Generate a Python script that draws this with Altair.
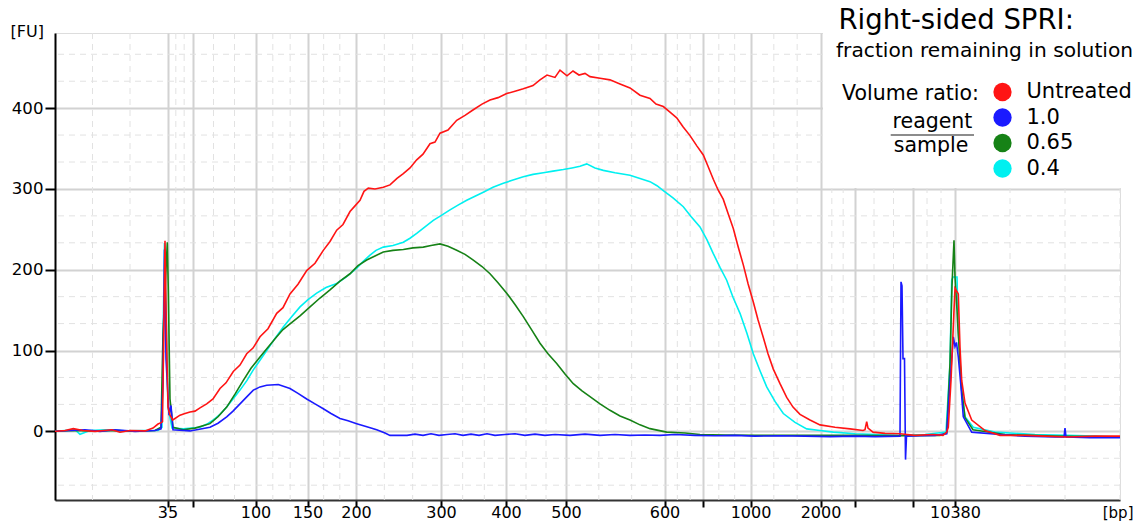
import altair as alt
import pandas as pd

# ---- x: migration position along the run (ladder peaks mark the bp sizes) ----
tick_pos = [112.5, 137.5, 200.5, 252.5, 301, 386, 451, 511, 609.5, 648, 695.5, 765.5, 799.5, 858, 900]
tick_lbl = ["35", "", "100", "150", "200", "300", "400", "500", "600", "", "1000", "2000", "", "", "10380"]
X_END = 1065
y_major = [0, 100, 200, 300, 400]

series_names = ["Untreated", "1.0", "0.65", "0.4"]
series_colors = ["#ff1414", "#1a1aff", "#168216", "#00f0f0"]

untreated_x = [0, 1.7, 10, 18.3, 28, 40, 56.7, 65, 75, 90, 98, 103, 106.7, 107.5, 108.5, 110, 111.5, 113, 115,
               117.7, 125, 130, 135, 140, 145, 151.7, 158, 165, 171, 178.3, 185, 191.7, 198, 205, 213, 221.7,
               228, 235, 243, 251.7, 260, 268.3, 275, 281.7, 288, 295, 300, 305, 309, 313.3, 320, 328.3, 335,
               342, 348.3, 355, 361.7, 368, 375, 380, 385, 393, 401.7, 410, 418.3, 427, 435, 443, 451.7, 460,
               468.3, 478, 485, 492, 500, 505, 512, 518, 524, 530, 535, 545, 555, 565, 575, 585, 595, 601,
               608.3, 615, 621.7, 628, 635, 642, 648.3, 653, 658.3, 663, 668.3, 673, 678.3, 683, 688.3, 693,
               698.3, 703, 708.3, 713, 718.3, 725, 731.7, 738, 745, 755, 765, 780, 795, 808, 810, 811.7, 813,
               818, 830, 845, 860, 878, 888, 891.7, 893.3, 896, 899, 900, 903.3, 905, 906.7, 910, 916.7, 930,
               945, 970, 990, 1011.7, 1040, 1065]
untreated_y = [0, 0, 1, 3.3, 1, 0, 2, -1.2, 1, 0.5, 4, 9, 11, 12, 100, 236, 120, 30, 20,
               14, 20, 22, 24, 25, 29, 34, 40, 53, 60, 74, 82, 96, 103, 117, 127, 146,
               153, 170, 182, 199, 208, 224, 235, 249, 256, 272, 279, 286, 297, 301, 300, 302, 305,
               313, 319, 326, 336, 343, 356, 358, 369, 373, 385, 391, 398, 405, 410, 413, 418, 421,
               424, 428, 435, 441, 438, 447, 440, 446, 441, 443, 439, 437, 435, 430, 425, 416, 412, 405,
               402, 395, 388, 377, 366, 353, 342, 328, 312, 299, 287, 270, 251, 229, 206, 183, 160,
               138, 116, 96, 77, 59, 42, 30, 21, 14, 8, 5, 3, 1, 2, 12, 4,
               -1, -2.5, -3, -5, -4, -5, -1, 5, 63, 150, 177, 170, 104, 63, 35, 14, 1, -5,
               -5, -6, -7, -6, -6, -6]

ratio10_x = [0, 15, 30, 45, 60, 80, 100, 106, 108, 109.5, 111, 114, 116, 118, 135, 155, 163, 171.7, 178, 185,
             192, 198.3, 205, 211.7, 223.3, 235, 243, 251.7, 260, 268.3, 276, 285, 293, 301.7, 311, 321.7, 330,
             335, 352, 360, 368, 376, 384, 392, 400, 408, 416, 424, 432, 440, 450, 460, 470, 480, 490, 500,
             515, 530, 545, 560, 575, 590, 605, 620, 640, 660, 680, 700, 725, 750, 775, 800, 820, 845, 846,
             847, 848, 849.5, 850.5, 851.5, 865, 880, 891.7, 895, 898.3, 900, 901.5, 903.3, 906, 908.3, 916.7,
             945, 970, 1000, 1009, 1010, 1011, 1035, 1065]
ratio10_y = [0, 1, 2, 0, 2, 0, 1, 3, 60, 225, 90, 20, 32, 2, 0.5, 5, 10, 18, 25, 34,
             43, 51, 55, 57, 58, 53, 47, 40, 34, 28, 22, 16, 13, 9.5, 6, 2, -2,
             -5, -5, -3.5, -5, -3, -5, -4, -3, -5, -3.5, -5, -3, -5, -4, -3, -5, -3.5, -5, -4,
             -5, -3.5, -5, -4, -5, -4.5, -5, -4, -5, -5.5, -5, -6, -5.5, -6, -6.5, -6, -6.5, -6, 185,
             180, 90, 90, -35, -6, -5.5, -5, -3, 60, 117, 105, 110, 92, 55, 18, -1,
             -4, -6, -7, -7, 4, -7, -8, -8]

ratio065_x = [0, 20, 40, 60, 80, 100, 106, 108, 112.3, 113.3, 115, 118, 128.3, 140, 155, 163, 171.7, 180,
              188.3, 196, 205, 213, 221.7, 228, 235, 245, 255, 265, 275, 285, 295, 303, 311.7, 320, 328.3,
              338, 348.3, 358, 368.3, 376, 385, 393, 401.7, 410, 418.3, 427, 435, 443, 451.7, 460, 468.3,
              477, 485, 493, 501.7, 510, 518.3, 527, 535, 545, 555, 565, 575, 585, 595, 611.7, 630, 645, 670,
              700, 750, 800, 850, 885, 891.7, 895, 897, 899, 900, 902, 903.3, 906.7, 910, 918, 950, 1000, 1065]
ratio065_y = [0, 1, 0, 1, 0, 1, 5, 120, 234, 175, 40, 5, 2, 4, 9.5, 18, 30, 46,
              63, 78, 92, 104, 117, 126, 133, 143, 154, 165, 175, 186, 195, 205, 212, 217, 222,
              224, 225, 227, 228, 230, 232, 229, 224, 219, 212, 204, 195, 184, 171, 157, 142,
              125, 109, 96, 84, 71, 59, 50, 43, 34, 26, 19, 14, 8, 3.3, -1, -2, -4, -4.5,
              -5, -5, -5, -5.5, -5, -2, 84, 180, 236.5, 191, 150, 120, 51, 17, 2, -4, -6, -7]

ratio04_x = [0, 10, 20, 25, 35, 50, 70, 90, 103, 107, 108.5, 109.5, 111, 113, 117, 128.3, 145, 152, 158.3,
             165, 171.7, 178, 185, 192, 198.3, 205, 211.7, 220, 228.3, 236, 245, 253, 261.7, 271, 281.7, 291,
             301.7, 308, 315, 321, 328.3, 338, 348.3, 355, 361.7, 370, 378.3, 386, 395, 403, 411.7, 420,
             428.3, 438, 448.3, 458, 468.3, 478, 488.3, 498, 508.3, 517, 525, 531.7, 540, 548.3, 560, 575,
             585, 595, 602, 608.3, 618, 628.3, 636, 645, 652, 658.3, 665, 671.7, 678, 685, 692, 698.3, 705,
             711.7, 720, 728.3, 740, 751.7, 765, 778.3, 800, 845, 870, 891, 895, 896.7, 898, 902, 903.3,
             906.7, 910, 918.3, 940, 980, 1011.7, 1040, 1065]
ratio04_y = [0, 1, 2, -3.7, 1, 2, 0.5, 1, 1, 5, 150, 233, 150, 30, 4, 3, 5, 9, 14,
             21, 30, 40, 51, 63, 76, 88, 100, 115, 129, 141, 154, 163, 171, 178, 183, 191,
             202, 210, 218, 224, 228, 230, 234, 239, 245, 253, 261, 267, 274, 280, 286, 291,
             296, 302, 307, 311, 315, 318, 320, 322, 324, 326, 328, 331, 326, 323, 320, 317,
             313, 309, 304, 298, 289, 278, 266, 253, 237, 220, 203, 187, 166, 146, 121, 96, 75,
             55, 37, 22, 11, 3, 1, -1, -3, -5, -4, -1, 84, 187, 191, 191, 125,
             51, 18, 5, -1, -4, -5, -6, -7]

rows = []
for name, xs, ys in [("0.4", ratio04_x, ratio04_y), ("0.65", ratio065_x, ratio065_y),
                     ("1.0", ratio10_x, ratio10_y), ("Untreated", untreated_x, untreated_y)]:
    for i, (a, b) in enumerate(zip(xs, ys)):
        rows.append({"series": name, "pos": a, "fu": b, "i": i})
df = pd.DataFrame(rows)

# minor (dashed) grid positions: thirds between consecutive ticks
bounds = [0] + tick_pos + [X_END]
minor_x = []
for a, b in zip(bounds[:-1], bounds[1:]):
    minor_x += [a + (b - a) / 3, a + 2 * (b - a) / 3]
minor_x.append(X_END)
minor_y = [k * 100 / 3 for k in range(-2, 15) if k % 3 != 0]

xscale = alt.Scale(domain=[0, X_END], nice=False, zero=False)
yscale = alt.Scale(domain=[-85, 493], nice=False, zero=False)
cscale = alt.Scale(domain=series_names, range=series_colors)

FONT = "DejaVu Sans"
label_expr = ("[" + ",".join("'%s'" % s for s in tick_lbl) + "][indexof(["
              + ",".join(str(v) for v in tick_pos) + "], datum.value)]")

xaxis = alt.Axis(values=tick_pos, labelExpr=label_expr, grid=True, gridColor="#d2d2d2", gridWidth=2,
                 domainColor="#333333", domainWidth=2, tickColor="#000000", tickWidth=2, tickSize=7,
                 labelFont=FONT, labelFontSize=16, labelColor="#000000", labelPadding=10,
                 labelBaseline="alphabetic", labelOverlap=False, labelFlush=False,
                 title="[bp]", titleFont=FONT, titleFontSize=15, titleFontWeight="normal",
                 titleX=1078, titleY=17, titleBaseline="alphabetic", titleAlign="right", titleColor="#000000")
yaxis = alt.Axis(values=y_major, grid=True, gridColor="#d2d2d2", gridWidth=2,
                 domainColor="#000000", domainWidth=2, tickColor="#000000", tickWidth=2, tickSize=10,
                 labelFont=FONT, labelFontSize=16.6, labelColor="#000000", labelPadding=2,
                 title="[FU]", titleFont=FONT, titleFontSize=16, titleFontWeight="normal", titleAngle=0,
                 titleX=-45, titleY=3.7, titleAlign="left", titleBaseline="alphabetic", titleColor="#000000")

vminor = alt.Chart(pd.DataFrame({"x": minor_x})).mark_rule(
    color="#e2e2e2", strokeWidth=1, strokeDash=[6, 5]).encode(x=alt.X("x:Q", scale=xscale, axis=xaxis))
hminor = alt.Chart(pd.DataFrame({"y": minor_y})).mark_rule(
    color="#e2e2e2", strokeWidth=1, strokeDash=[6, 5]).encode(y=alt.Y("y:Q", scale=yscale, axis=yaxis))

box = alt.Chart(pd.DataFrame({"a": [0]})).mark_rect(color="white").encode(
    x=alt.value(768), x2=alt.value(1100), y=alt.value(-40), y2=alt.value(155))

lines = alt.Chart(df).mark_line(strokeWidth=1.6).encode(
    x=alt.X("pos:Q", scale=xscale, axis=xaxis),
    y=alt.Y("fu:Q", scale=yscale, axis=yaxis),
    color=alt.Color("series:N", scale=cscale, sort=series_names, legend=None),
    detail="series:N",
    order=alt.Order("i:Q"),
)

# legend keys: one entry per series, placed outside the plotted range (only the legend shows them)
key_df = pd.DataFrame({"series": series_names, "pos": [-500] * 4, "fu": [0] * 4})
keys = alt.Chart(key_df).mark_circle(opacity=1, clip=True).encode(
    x=alt.X("pos:Q", scale=xscale, axis=xaxis),
    y=alt.Y("fu:Q", scale=yscale, axis=yaxis),
    color=alt.Color("series:N", scale=cscale, sort=series_names,
                    legend=alt.Legend(orient="none", legendX=937, legendY=48.5, title=None,
                                      symbolType="circle", symbolSize=335, symbolStrokeWidth=0,
                                      symbolOpacity=1,
                                      labelFont=FONT, labelFontSize=21, labelColor="#000000",
                                      labelOffset=13.5, rowPadding=3.5, padding=0)),
)


def txt(s, x, y, size, align="left"):
    return alt.Chart(pd.DataFrame({"t": [s]})).mark_text(
        font=FONT, fontSize=size, align=align, baseline="alphabetic", color="#000000").encode(
        x=alt.value(x), y=alt.value(y), text="t:N")


frac_line = alt.Chart(pd.DataFrame({"a": [0]})).mark_rule(color="#666666", strokeWidth=1.5).encode(
    x=alt.value(835.7), x2=alt.value(919), y=alt.value(102))

chart = alt.layer(
    vminor, hminor, box, lines, keys,
    txt("Right-sided SPRI:", 783.5, -4, 27.5),
    txt("fraction remaining in solution", 781, 23.7, 20.2),
    txt("Volume ratio:", 924, 67, 20.5, "right"),
    txt("reagent", 877.5, 95, 20.5, "center"),
    txt("sample", 876, 118.7, 20.5, "center"),
    frac_line,
).resolve_legend(color="independent").properties(
    width=1065, height=467,
    padding={"left": 47, "top": 25, "right": 14, "bottom": 21},
    autosize=alt.AutoSizeParams(type="none"),
).configure_view(stroke=None).configure(background="white")

chart.save("out.html", embed_options={"renderer": "svg", "actions": False})
